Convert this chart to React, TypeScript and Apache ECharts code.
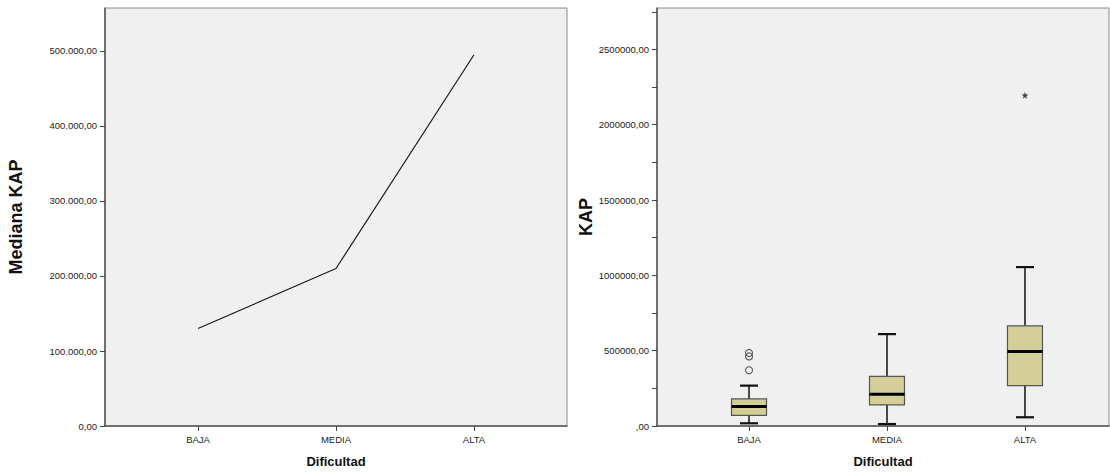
import React, { useEffect, useRef } from "react";
import * as echarts from "echarts";

const categories = ["BAJA", "MEDIA", "ALTA"];
const medianKap = [130000, 210000, 495000];

// boxplot: [lowerWhisker, Q1, median, Q3, upperWhisker]
const boxStats = [
  [18000, 70000, 130000, 180000, 268000],
  [13000, 140000, 210000, 330000, 610000],
  [58000, 268000, 495000, 665000, 1055000],
];
const outlierCat = ["BAJA", "BAJA", "BAJA"];
const outlierVals = [370000, 462000, 485000];
const extremeCat = ["ALTA"];
const extremeVals = [2195000];

const leftTicks = 100000;
const rightTicks = 250000;

const STAR =
  "path://M50,0 L61,35 L98,35 L68,57 L79,91 L50,70 L21,91 L32,57 L2,35 L39,35 Z";

function fmtLeft(v: number) {
  if (v % 100000 !== 0) return "";
  return String(v).replace(/\B(?=(\d{3})+(?!\d))/g, ".") + ",00";
}
function fmtRight(v: number) {
  if (v % 500000 !== 0) return "";
  return v === 0 ? ",00" : String(v) + ",00";
}

export default function App() {
  const ref = useRef<HTMLDivElement>(null);
  useEffect(() => {
    document.body.style.margin = "0";
    const chart = echarts.init(ref.current!, null, { renderer: "svg" });
    const font = "'Liberation Sans', Arial, sans-serif";
    const labelStyle = { color: "#222", fontSize: 9.5, fontFamily: font };
    const axisLine = { show: true, onZero: false, lineStyle: { color: "#555", width: 1.5 } };
    const tick = { show: true, length: 5, lineStyle: { color: "#444", width: 1 } };
    const catIdx = categories.map((_, i) => i);

    const boxData = boxStats.map((s, i) => [i, ...s]);
    const outData = outlierVals.map((v, i) => [categories.indexOf(outlierCat[i]), v]);
    const extData = extremeVals.map((v, i) => [categories.indexOf(extremeCat[i]), v]);

    chart.setOption({
      animation: false,
      backgroundColor: "#fff",
      grid: [
        { left: 105, top: 8, width: 462, height: 418, show: true, backgroundColor: "#f0f0f0", borderColor: "#8a8a8a", borderWidth: 1 },
        { left: 657, top: 8, width: 452, height: 418, show: true, backgroundColor: "#f0f0f0", borderColor: "#8a8a8a", borderWidth: 1 },
      ],
      xAxis: [
        {
          gridIndex: 0, type: "value", min: -0.674, max: 2.674,
          splitLine: { show: false }, axisLine,
          axisTick: { ...tick, customValues: catIdx },
          axisLabel: { ...labelStyle, margin: 8, customValues: catIdx, formatter: (v: number) => categories[Math.round(v)] },
          name: "Dificultad", nameLocation: "middle", nameGap: 29,
          nameTextStyle: { fontFamily: font, fontWeight: "bold", fontSize: 13, color: "#111" },
        },
        {
          gridIndex: 1, type: "value", min: -0.667, max: 2.609,
          splitLine: { show: false }, axisLine,
          axisTick: { ...tick, customValues: catIdx },
          axisLabel: { ...labelStyle, margin: 8, customValues: catIdx, formatter: (v: number) => categories[Math.round(v)] },
          name: "Dificultad", nameLocation: "middle", nameGap: 29,
          nameTextStyle: { fontFamily: font, fontWeight: "bold", fontSize: 13, color: "#111" },
        },
      ],
      yAxis: [
        {
          gridIndex: 0, type: "value", min: 0, max: 557333, interval: leftTicks,
          splitLine: { show: false }, axisLine, axisTick: tick,
          axisLabel: { ...labelStyle, margin: 8, formatter: fmtLeft, showMaxLabel: false },
          name: "Mediana KAP", nameLocation: "middle", nameGap: 80,
          nameTextStyle: { fontFamily: font, fontWeight: "bold", fontSize: 18, color: "#111" },
        },
        {
          gridIndex: 1, type: "value", min: 0, max: 2775000, interval: rightTicks,
          splitLine: { show: false }, axisLine, axisTick: tick,
          axisLabel: { ...labelStyle, margin: 8, formatter: fmtRight, showMaxLabel: false },
          name: "KAP", nameLocation: "middle", nameGap: 60,
          nameTextStyle: { fontFamily: font, fontWeight: "bold", fontSize: 18, color: "#111" },
        },
      ],
      series: [
        {
          type: "line", xAxisIndex: 0, yAxisIndex: 0,
          data: medianKap.map((v, i) => [i, v]),
          showSymbol: false, symbol: "none",
          lineStyle: { color: "#1a1a1a", width: 1.2 },
        },
        {
          type: "custom", xAxisIndex: 1, yAxisIndex: 1,
          data: boxData,
          encode: { x: 0, y: [1, 2, 3, 4, 5] },
          renderItem: (params: any, api: any) => {
            const x = api.value(0);
            const lo = api.coord([x, api.value(1)]);
            const q1 = api.coord([x, api.value(2)]);
            const md = api.coord([x, api.value(3)]);
            const q3 = api.coord([x, api.value(4)]);
            const hi = api.coord([x, api.value(5)]);
            const cx = lo[0];
            const bw = 35;
            const cw = 18;
            const wStyle = { stroke: "#111", lineWidth: 1.5 };
            const cStyle = { stroke: "#111", lineWidth: 2.2 };
            return {
              type: "group",
              children: [
                { type: "line", shape: { x1: cx, y1: q3[1], x2: cx, y2: hi[1] }, style: wStyle },
                { type: "line", shape: { x1: cx, y1: q1[1], x2: cx, y2: lo[1] }, style: wStyle },
                { type: "line", shape: { x1: cx - cw / 2, y1: hi[1], x2: cx + cw / 2, y2: hi[1] }, style: cStyle },
                { type: "line", shape: { x1: cx - cw / 2, y1: lo[1], x2: cx + cw / 2, y2: lo[1] }, style: cStyle },
                { type: "rect", shape: { x: cx - bw / 2, y: q3[1], width: bw, height: q1[1] - q3[1] }, style: { fill: "#d4cf98", stroke: "#555", lineWidth: 1.2 } },
                { type: "line", shape: { x1: cx - bw / 2, y1: md[1], x2: cx + bw / 2, y2: md[1] }, style: { stroke: "#000", lineWidth: 3 } },
              ],
            };
          },
        },
        {
          type: "scatter", xAxisIndex: 1, yAxisIndex: 1,
          data: outData, symbol: "circle", symbolSize: 7,
          itemStyle: { color: "transparent", borderColor: "#333", borderWidth: 1.1 },
        },
        {
          type: "scatter", xAxisIndex: 1, yAxisIndex: 1,
          data: extData, symbol: STAR, symbolSize: 7,
          itemStyle: { color: "#111" },
        },
      ],
    });
    return () => chart.dispose();
  }, []);
  return <div ref={ref} style={{ position: "absolute", left: 0, top: 0, width: 1110, height: 473 }} />;
}
